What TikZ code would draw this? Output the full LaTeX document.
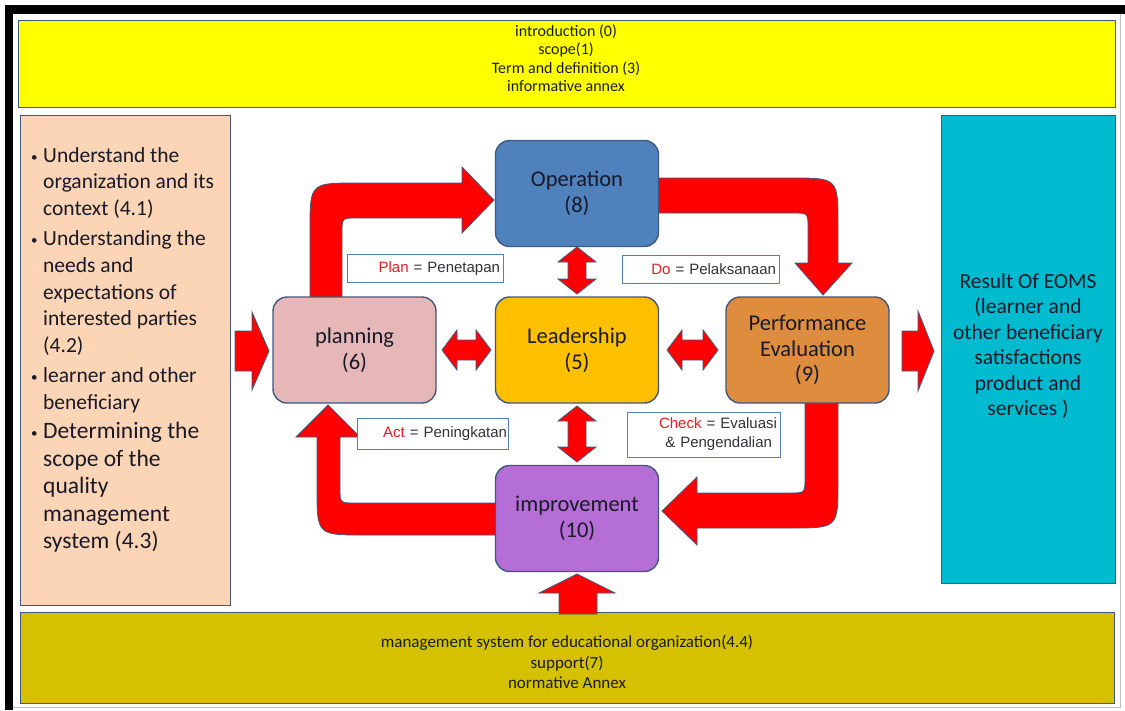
\documentclass[tikz,border=0pt]{standalone}
\usepackage{fontspec}
\setmainfont{Carlito}
\newfontfamily\arialfont{Liberation Sans}
\usetikzlibrary{positioning}

\definecolor{edge}{RGB}{62,88,128}
\definecolor{ink}{RGB}{25,25,40}
\definecolor{arrred}{RGB}{255,0,0}
\definecolor{topyellow}{RGB}{255,255,0}
\definecolor{peach}{RGB}{251,213,181}
\definecolor{cyanbox}{RGB}{0,187,207}
\definecolor{olive}{RGB}{213,193,0}
\definecolor{opblue}{RGB}{79,129,189}
\definecolor{planpink}{RGB}{229,184,183}
\definecolor{leadgold}{RGB}{255,192,0}
\definecolor{perforange}{RGB}{222,141,62}
\definecolor{imppurple}{RGB}{180,110,214}
\definecolor{lblblue}{RGB}{79,129,189}
\definecolor{lbltext}{RGB}{50,50,60}
\definecolor{lblred}{RGB}{230,30,30}

\newcommand{\bl}{\makebox[12pt][l]{\raisebox{1pt}{\fontsize{13}{13}\selectfont\textbullet}}}
\newcommand{\ind}{\hspace*{12pt}}
\newcommand{\rd}[1]{\textcolor{lblred}{#1}}

\begin{document}
\begin{tikzpicture}[x=1pt,y=-1pt,
  stage/.style={draw=edge,line width=1.4pt,rounded corners=14pt,minimum width=163pt,minimum height=106pt,align=center,text=ink,font=\fontsize{22.5}{25.5}\selectfont},
  panel/.style={draw=edge,line width=1pt},
  fat/.style={fill=arrred,draw=edge,line width=0.8pt},
  lbl/.style={draw=lblblue,fill=white,line width=0.9pt,inner xsep=3pt,inner ysep=2pt,align=right,text=lbltext,font=\arialfont\fontsize{15}{19}\selectfont}]

\useasboundingbox (0,0) rectangle (1125,710);
\fill[white] (0,0) rectangle (1125,710);

% frame
\fill[black] (5,5) rectangle (1125,14);
\fill[black] (5,5) rectangle (13,710);
\draw[gray!50,line width=1pt] (1120,14) -- (1120,707) -- (13,707);

% panels
\draw[panel,fill=topyellow] (18,20) rectangle (1115,107);
\draw[panel,fill=peach] (20,115) rectangle (230,605);
\draw[panel,fill=cyanbox] (941,115) rectangle (1115,583);
\draw[panel,fill=olive] (20,612) rectangle (1114,703);

\node[align=center,text=ink,font=\fontsize{16}{18.5}\selectfont] (intro) at (566,58)
  {introduction (0)\\scope(1)\\Term and definition (3)\\informative annex};
\node[align=center,text=ink,font=\fontsize{17}{20.5}\selectfont] (support) at (567,662)
  {management system for educational organization(4.4)\\support(7)\\normative Annex};
\node[align=center,text=ink,font=\fontsize{21.5}{25.5}\selectfont] (result) at (1028,346)
  {Result Of EOMS\\(learner and\\other beneficiary\\satisfactions\\product and\\services )};

\node[anchor=north west,inner sep=0pt,align=left,text=ink,font=\fontsize{21.5}{26.8}\selectfont] (ctxA) at (31,147)
  {\bl Understand the\\ \ind organization and its\\ \ind context (4.1)\\[3pt]
   \bl Understanding the\\ \ind needs and\\ \ind expectations of\\ \ind interested parties\\ \ind (4.2)\\[3pt]
   \bl learner and other\\ \ind beneficiary};
\node[below right=9pt and 0pt of ctxA.south west,inner sep=0pt,align=left,text=ink,font=\fontsize{23.5}{27.5}\selectfont] (ctxB)
  {\bl Determining the\\ \ind scope of the\\ \ind quality\\ \ind management\\ \ind system (4.3)};

% big red arrows
\draw[fat] (235,331) -- (252,331) -- (252,312) -- (269,351) -- (252,390) -- (252,371) -- (235,371) -- cycle;
\draw[fat] (902,331) -- (918,331) -- (918,311) -- (934,351) -- (918,391) -- (918,371) -- (902,371) -- cycle;
\draw[fat] (559,614) -- (559,593) -- (539,593) -- (577,574) -- (615,593) -- (597,593) -- (597,614) -- cycle;

% plan -> do -> check -> act loop
\draw[fat] (310,300) -- (310,230) .. controls (310,183) .. (357,183) -- (462,183) -- (462,167) -- (494,200)
  -- (462,233) -- (462,218) -- (357,218) .. controls (342,218) .. (342,233) -- (342,300) -- cycle;
\draw[fat] (655,178) -- (791,178) .. controls (838,178) .. (838,225) -- (838,263) -- (852,263) -- (823,295)
  -- (795,263) -- (808,263) -- (808,228) .. controls (808,213) .. (793,213) -- (655,213) -- cycle;
\draw[fat] (805,398) -- (838,398) -- (838,481) .. controls (838,528) .. (791,528) -- (697,528) -- (697,545)
  -- (662,511) -- (697,477) -- (697,493) -- (790,493) .. controls (805,493) .. (805,478) -- cycle;
\draw[fat] (500,503) -- (355,503) .. controls (340,503) .. (340,488) -- (340,437) -- (360,437) -- (328,405)
  -- (296,437) -- (317,437) -- (317,488) .. controls (317,535) .. (364,535) -- (500,535) -- cycle;

% double arrows round leadership
\draw[fat] (577,247) -- ++(19,15) -- ++(-10,0) -- ++(0,17) -- ++(10,0) -- ++(-19,15) -- ++(-19,-15) -- ++(10,0) -- ++(0,-17) -- ++(-10,0) -- cycle;
\draw[fat] (577,406) -- ++(19,15) -- ++(-10,0) -- ++(0,26) -- ++(10,0) -- ++(-19,15) -- ++(-19,-15) -- ++(10,0) -- ++(0,-26) -- ++(-10,0) -- cycle;
\draw[fat] (442,350) -- ++(15,-20) -- ++(0,10) -- ++(19,0) -- ++(0,-10) -- ++(15,20) -- ++(-15,20) -- ++(0,-10) -- ++(-19,0) -- ++(0,10) -- cycle;
\draw[fat] (667,350) -- ++(15,-20) -- ++(0,10) -- ++(21,0) -- ++(0,-10) -- ++(15,20) -- ++(-15,20) -- ++(0,-10) -- ++(-21,0) -- ++(0,10) -- cycle;

% stages
\node[stage,fill=opblue] (oper) at (577,193.5) {Operation\\(8)};
\node[stage,fill=planpink] (plan) at (354.5,350) {planning\\(6)};
\node[stage,fill=leadgold] (lead) at (577,350) {Leadership\\(5)};
\node[stage,fill=perforange] (perf) at (807.5,350) {Performance\\Evaluation\\(9)};
\node[stage,fill=imppurple] (impr) at (577,518.5) {improvement\\(10)};

% pdca labels
\node[lbl,text width=150pt,minimum height=28pt] (planlbl) at (425,268.5) {\rd{Plan} = Penetapan};
\node[lbl,text width=151pt,minimum height=28pt] (dolbl) at (700.5,269) {\rd{Do} = Pelaksanaan};
\node[lbl,text width=149pt,inner xsep=1pt,minimum height=31pt] (actlbl) at (432.5,433.5) {\rd{Act} = Peningkatan};
\node[lbl,text width=147pt,minimum height=45pt] (chklbl) at (703.5,434.5) {\rd{Check} = Evaluasi\\ \& Pengendalian\hspace*{5pt}};
\end{tikzpicture}
\end{document}
